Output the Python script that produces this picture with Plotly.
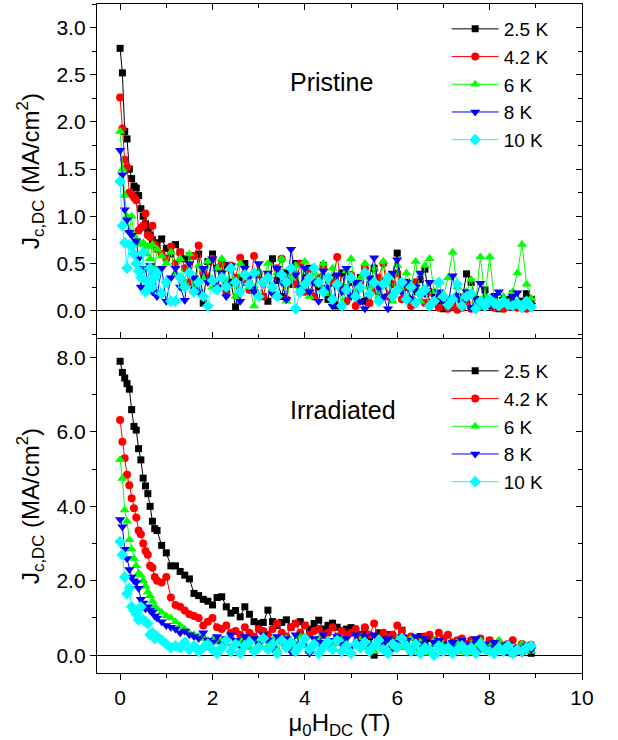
import plotly.graph_objects as go

# Magnetic field (T), shared sampling grid
FIELD_T = [
    0.00, 0.05, 0.10, 0.15, 0.20, 0.25, 0.30, 0.35, 0.40, 0.45,
    0.50, 0.55, 0.60, 0.65, 0.70, 0.75, 0.80, 0.90, 1.00, 1.10,
    1.20, 1.30, 1.40, 1.50, 1.60, 1.70, 1.80, 1.90, 2.00, 2.10,
    2.20, 2.30, 2.40, 2.50, 2.60, 2.70, 2.80, 2.90, 3.00, 3.10,
    3.20, 3.30, 3.40, 3.50, 3.60, 3.70, 3.80, 3.90, 4.00, 4.10,
    4.20, 4.30, 4.40, 4.50, 4.60, 4.70, 4.80, 4.90, 5.00, 5.10,
    5.20, 5.30, 5.40, 5.50, 5.60, 5.70, 5.80, 5.90, 6.00, 6.10,
    6.20, 6.30, 6.40, 6.50, 6.60, 6.70, 6.80, 6.90, 7.00, 7.10,
    7.20, 7.30, 7.40, 7.50, 7.60, 7.70, 7.80, 7.90, 8.00, 8.10,
    8.20, 8.30, 8.40, 8.50, 8.60, 8.70, 8.80, 8.90,
]

# ---------------- Pristine (MA/cm^2) ----------------
PRISTINE_2_5K = [
    2.78, 2.52, 1.90, 1.82, 1.50, 1.40, 1.32, 1.30, 1.22, 1.08,
    1.00, 0.92, 0.85, 0.80, 0.75, 0.72, 0.70, 0.76, 0.66, 0.60,
    0.70, 0.62, 0.55, 0.58, 0.22, 0.60, 0.08, 0.52, 0.60, 0.45,
    0.40, 0.48, 0.30, 0.04, 0.35, 0.50, 0.28, 0.22, 0.38, 0.15,
    0.10, 0.55, 0.32, 0.15, 0.40, 0.28, 0.50, 0.20, 0.35, 0.45,
    0.30, 0.25, 0.48, 0.12, 0.35, 0.05, 0.40, 0.22, 0.30, 0.18,
    0.35, 0.10, 0.28, 0.45, 0.20, 0.32, 0.15, 0.38, 0.61, 0.25,
    0.30, 0.12, 0.20, 0.33, 0.44, 0.08, 0.18, 0.10, 0.02, 0.12,
    0.08, 0.15, 0.10, 0.39, 0.30, 0.12, 0.05, 0.22, 0.10, 0.15,
    0.02, 0.08, 0.12, 0.18, 0.05, 0.10, 0.18, 0.12,
]
PRISTINE_4_2K = [
    2.26, 1.93, 1.60, 1.52, 1.25, 1.23, 1.20, 1.17, 0.85, 0.88,
    0.90, 1.03, 0.80, 0.78, 0.90, 0.70, 0.65, 0.60, 0.55, 0.68,
    0.50, 0.62, 0.45, 0.30, 0.58, 0.69, 0.40, 0.35, 0.55, 0.25,
    0.50, 0.20, 0.48, 0.35, 0.56, 0.30, 0.22, 0.58, 0.40, 0.15,
    0.38, 0.25, 0.45, 0.55, 0.12, 0.35, 0.28, 0.50, 0.20, 0.40,
    0.15, 0.35, 0.45, 0.20, 0.30, 0.57, 0.25, 0.10, 0.38, 0.05,
    0.30, 0.45, 0.08, 0.22, 0.35, 0.50, 0.15, 0.28, 0.40, 0.12,
    0.25, 0.05, 0.30, 0.18, 0.08, 0.20, 0.10, 0.03, 0.15, 0.02,
    0.05, 0.01, 0.03, 0.08, 0.02, 0.10, 0.05, 0.12, 0.06, 0.03,
    0.05, 0.02, 0.04, 0.08, 0.03, 0.06, 0.02, 0.05,
]
PRISTINE_6K = [
    1.90, 1.50, 1.22, 1.00, 0.85, 1.00, 0.80, 0.75, 0.72, 0.70,
    0.72, 0.60, 0.68, 0.55, 0.70, 0.45, 0.65, 0.58, 0.50, 0.62,
    0.40, 0.55, 0.30, 0.60, 0.20, 0.48, 0.35, 0.52, 0.25, 0.45,
    0.55, 0.30, 0.45, 0.15, 0.50, 0.38, 0.25, 0.05, 0.42, 0.30,
    0.50, 0.20, 0.40, 0.55, 0.10, 0.35, 0.48, 0.25, 0.52, 0.15,
    0.40, 0.28, 0.50, 0.18, 0.45, 0.30, 0.08, 0.42, 0.55, 0.20,
    0.35, 0.50, 0.25, 0.45, 0.15, 0.52, 0.30, 0.10, 0.48, 0.20,
    0.40, 0.25, 0.52, 0.10, 0.48, 0.55, 0.20, 0.30, 0.15, 0.35,
    0.62, 0.25, 0.10, 0.20, 0.33, 0.10, 0.57, 0.15, 0.57, 0.12,
    0.05, 0.15, 0.08, 0.20, 0.40, 0.70, 0.28, 0.13,
]
PRISTINE_8K = [
    1.70, 1.44, 1.07, 0.96, 0.83, 0.80, 0.70, 0.74, 0.55, 0.25,
    0.45, 0.45, 0.30, 0.48, 0.20, 0.40, 0.15, 0.45, 0.10, 0.35,
    0.45, 0.25, 0.11, 0.50, 0.35, 0.20, 0.45, 0.30, 0.55, 0.25,
    0.40, 0.15, 0.48, 0.30, 0.10, 0.45, 0.35, 0.20, 0.50, 0.28,
    0.40, 0.18, 0.45, 0.30, 0.12, 0.65, 0.38, 0.25, 0.45, 0.20,
    0.30, 0.10, 0.42, 0.25, 0.05, 0.38, 0.20, 0.45, 0.15, 0.30,
    0.10, 0.02, 0.35, 0.56, 0.25, 0.15, 0.02, 0.40, 0.54, 0.20,
    0.30, 0.12, 0.25, 0.40, 0.18, 0.30, 0.08, 0.20, 0.10, 0.05,
    0.37, 0.15, 0.08, 0.20, 0.03, 0.12, 0.29, 0.10, 0.05, 0.15,
    0.20, 0.12, 0.08, 0.15, 0.19, 0.05, 0.10, 0.06,
]
PRISTINE_10K = [
    1.37, 0.90, 0.72, 0.45, 0.70, 0.68, 0.60, 0.50, 0.42, 0.35,
    0.62, 0.20, 0.30, 0.45, 0.25, 0.35, 0.40, 0.18, 0.30, 0.10,
    0.10, 0.35, 0.25, 0.40, 0.20, 0.30, 0.15, 0.05, 0.32, 0.22,
    0.35, 0.25, 0.45, 0.30, 0.20, 0.38, 0.28, 0.40, 0.15, 0.30,
    0.35, 0.25, 0.15, 0.38, 0.30, 0.45, 0.02, 0.20, 0.28, 0.35,
    0.45, 0.30, 0.20, 0.35, 0.12, 0.28, 0.05, 0.22, 0.35, 0.15,
    0.25, 0.40, 0.18, 0.30, 0.10, 0.28, 0.35, 0.15, 0.22, 0.30,
    0.12, 0.25, 0.08, 0.18, 0.22, 0.05, 0.10, 0.30, 0.15, 0.06,
    0.12, 0.28, 0.05, 0.15, 0.18, 0.02, 0.10, 0.05, 0.12, 0.08,
    0.05, 0.10, 0.06, 0.05, 0.08, 0.03, 0.10, 0.04,
]

# ---------------- Irradiated (MA/cm^2) ----------------
IRRADIATED_2_5K = [
    7.90, 7.60, 7.45, 7.30, 7.15, 6.60, 6.15, 6.05, 5.55, 5.25,
    4.76, 4.55, 4.34, 4.00, 3.60, 3.40, 3.35, 2.95, 2.75, 2.40,
    2.40, 2.25, 2.15, 2.05, 1.66, 1.60, 1.50, 1.45, 1.35, 1.55,
    1.57, 1.30, 1.13, 1.20, 1.03, 1.30, 1.10, 0.90, 0.85, 0.88,
    1.21, 0.90, 0.80, 0.88, 0.95, 0.75, 0.85, 0.90, 0.80, 0.70,
    0.85, 0.94, 0.70, 0.80, 0.86, 0.75, 0.65, 0.70, 0.74, 0.60,
    0.55, 0.65, 0.50, 0.00, 0.60, 0.45, 0.55, 0.50, 0.40, 0.67,
    0.45, 0.10, 0.40, 0.50, 0.35, 0.45, 0.40, 0.30, 0.35, 0.25,
    0.30, 0.20, 0.35, 0.25, 0.30, 0.15, 0.28, 0.20, 0.38, 0.30,
    0.15, 0.25, 0.10, 0.05, 0.18, 0.08, 0.15, 0.05,
]
IRRADIATED_4_2K = [
    6.32, 5.74, 5.29, 4.85, 4.57, 4.22, 3.95, 3.70, 3.35, 3.25,
    3.00, 2.80, 2.70, 2.40, 2.35, 2.10, 2.00, 1.95, 2.10, 1.55,
    1.35, 1.30, 1.20, 1.10, 1.05, 1.00, 0.80, 0.90, 1.00, 0.75,
    0.70, 0.80, 0.60, 0.65, 0.55, 0.75, 0.60, 0.50, 0.70, 0.65,
    0.55, 0.70, 0.85, 0.60, 0.50, 0.75, 0.85, 0.60, 0.80, 0.55,
    0.65, 0.70, 0.55, 0.60, 0.75, 0.50, 0.65, 0.55, 0.60, 0.70,
    0.50, 0.75, 0.55, 0.85, 0.45, 0.60, 0.50, 0.55, 0.80, 0.65,
    0.40, 0.50, 0.45, 0.35, 0.50, 0.55, 0.40, 0.60, 0.45, 0.55,
    0.35, 0.40, 0.45, 0.30, 0.40, 0.35, 0.45, 0.25, 0.40, 0.30,
    0.35, 0.25, 0.30, 0.40, 0.20, 0.30, 0.25, 0.28,
]
IRRADIATED_6K = [
    5.25, 4.75, 3.90, 3.60, 3.10, 2.85, 2.60, 2.40, 2.20, 2.15,
    2.00, 1.85, 1.70, 1.60, 1.45, 1.30, 1.25, 1.15, 1.05, 1.00,
    0.90, 0.80, 0.70, 0.60, 0.55, 0.50, 0.45, 0.40, 0.42, 0.35,
    0.40, 0.30, 0.50, 0.25, 0.35, 0.45, 0.20, 0.40, 0.30, 0.50,
    0.25, 0.40, 0.15, 0.35, 0.45, 0.20, 0.30, 0.50, 0.25, 0.10,
    0.35, 0.45, 0.20, 0.40, 0.15, 0.30, 0.45, 0.25, 0.05, 0.35,
    0.40, 0.20, 0.30, 0.10, 0.45, 0.25, 0.35, 0.15, 0.40, 0.20,
    0.30, 0.45, 0.10, 0.35, 0.25, 0.05, 0.40, 0.20, 0.30, 0.15,
    0.25, 0.35, 0.10, 0.05, 0.30, 0.20, 0.40, 0.15, 0.25, 0.30,
    0.40, 0.10, 0.20, 0.05, 0.15, 0.30, 0.20, 0.10,
]
IRRADIATED_8K = [
    3.65, 3.45, 2.85, 2.60, 2.30, 2.10, 2.00, 1.95, 1.80, 1.50,
    1.40, 1.25, 1.30, 1.20, 1.15, 1.05, 1.00, 0.90, 0.80, 0.75,
    0.70, 0.60, 0.65, 0.55, 0.50, 0.45, 0.60, 0.40, 0.35, 0.50,
    0.30, 0.45, 0.55, 0.40, 0.25, 0.50, 0.35, 0.45, 0.30, 0.55,
    0.40, 0.20, 0.50, 0.35, 0.45, 0.10, 0.55, 0.30, 0.40, 0.05,
    0.45, 0.35, 0.55, 0.25, 0.40, 0.50, 0.30, 0.45, 0.20, 0.55,
    0.35, 0.50, 0.25, 0.55, 0.40, 0.30, 0.45, 0.20, 0.35, 0.50,
    0.40, 0.25, 0.50, 0.30, 0.45, 0.20, 0.35, 0.40, 0.15, 0.30,
    0.35, 0.20, 0.40, 0.25, 0.30, 0.45, 0.15, 0.30, 0.20, 0.35,
    0.25, 0.15, 0.30, 0.10, 0.20, 0.05, 0.25, 0.15,
]
IRRADIATED_10K = [
    3.05, 2.70, 2.10, 1.65, 1.80, 1.30, 1.20, 1.10, 0.95, 1.30,
    0.95, 0.90, 0.85, 0.55, 0.60, 0.45, 0.50, 0.40, 0.30, 0.20,
    0.25, 0.20, 0.35, 0.15, 0.25, 0.10, 0.20, 0.30, 0.15, 0.05,
    0.20, 0.40, 0.10, 0.30, 0.05, 0.25, 0.35, 0.10, 0.20, 0.45,
    0.15, 0.30, 0.05, 0.40, 0.20, 0.35, 0.10, 0.25, 0.45, 0.15,
    0.30, 0.05, 0.20, 0.35, 0.15, 0.40, 0.10, 0.25, 0.05, 0.30,
    0.20, 0.35, 0.10, 0.25, 0.40, 0.15, 0.05, 0.30, 0.20, 0.45,
    0.25, 0.10, 0.30, 0.05, 0.20, 0.15, 0.00, 0.25, 0.10, 0.20,
    0.05, 0.15, 0.25, 0.10, 0.20, 0.05, 0.30, 0.15, 0.10, 0.05,
    0.20, 0.10, 0.25, 0.05, 0.15, 0.10, 0.20, 0.25,
]

SERIES_NAMES = ["2.5 K", "4.2 K", "6 K", "8 K", "10 K"]
PRISTINE = [PRISTINE_2_5K, PRISTINE_4_2K, PRISTINE_6K, PRISTINE_8K, PRISTINE_10K]
IRRADIATED = [IRRADIATED_2_5K, IRRADIATED_4_2K, IRRADIATED_6K, IRRADIATED_8K, IRRADIATED_10K]
COLORS = ["#000000", "#FF0000", "#00FF00", "#0000FF", "#00FFFF"]
SYMBOLS = ["square", "circle", "triangle-up", "triangle-down", "diamond"]
SIZES = [7, 8, 9, 9, 9]

X_TICKS = [0, 2, 4, 6, 8, 10]
X_RANGE = [-0.5, 10]
TOP_RANGE = [-0.29, 3.25]
BOT_RANGE = [-0.48, 8.5]

FONT = "Arial, 'Liberation Sans', sans-serif"

fig = go.Figure()

for name, ys, c, sym, sz in zip(SERIES_NAMES, PRISTINE, COLORS, SYMBOLS, SIZES):
    fig.add_trace(go.Scatter(
        x=FIELD_T, y=ys, name=name, mode="lines+markers",
        line=dict(color=c, width=1), marker=dict(symbol=sym, size=sz, color=c),
        xaxis="x2", yaxis="y2", legend="legend"))

for name, ys, c, sym, sz in zip(SERIES_NAMES, IRRADIATED, COLORS, SYMBOLS, SIZES):
    fig.add_trace(go.Scatter(
        x=FIELD_T, y=ys, name=name, mode="lines+markers",
        line=dict(color=c, width=1), marker=dict(symbol=sym, size=sz, color=c),
        xaxis="x", yaxis="y", legend="legend2"))

# empty helper traces so the mirror (frame) axes are drawn
for xa, ya in [("x3", "y2"), ("x2", "y3"), ("x4", "y"), ("x", "y4")]:
    fig.add_trace(go.Scatter(x=[], y=[], xaxis=xa, yaxis=ya, showlegend=False,
                             hoverinfo="skip"))

LW = 1.3
common = dict(showline=True, linecolor="black", linewidth=LW, showgrid=False,
              tickcolor="black", tickwidth=LW, ticklen=6,
              tickfont=dict(family=FONT, size=21, color="black"))


def minor(direction, dt):
    return dict(ticks=direction, dtick=dt, ticklen=3.5, tickwidth=LW,
                tickcolor="black", showgrid=False)


ytitle = dict(text="J<sub>c,DC</sub> (MA/cm<sup>2</sup>)",
              font=dict(family=FONT, size=24, color="black"), standoff=10)

legend_common = dict(xanchor="left", yanchor="top", bgcolor="rgba(0,0,0,0)",
                     itemwidth=47, tracegroupgap=0,
                     font=dict(family=FONT, size=19, color="black"))

fig.update_layout(
    width=618, height=740,
    margin=dict(l=97, r=36, t=4, b=67),
    paper_bgcolor="white", plot_bgcolor="white",
    font=dict(family=FONT, color="black"),
    xaxis=dict(**common, domain=[0, 1], anchor="y", range=X_RANGE,
               tickvals=X_TICKS, ticks="outside", minor=minor("outside", 1),
               zeroline=False,
               title=dict(text="μ<sub>0</sub>H<sub>DC</sub> (T)",
                          font=dict(family=FONT, size=24, color="black"),
                          standoff=6)),
    yaxis=dict(**common, domain=[0, 0.4993], anchor="x", range=BOT_RANGE,
               dtick=2, tick0=0, tickformat=".1f", ticks="outside",
               minor=minor("outside", 1), zeroline=True,
               zerolinecolor="black", zerolinewidth=1.2, title=ytitle),
    xaxis2=dict(**common, domain=[0, 1], anchor="y2", range=X_RANGE,
                tickvals=X_TICKS, ticks="inside", showticklabels=False,
                minor=minor("inside", 1), zeroline=False),
    yaxis2=dict(**common, domain=[0.5007, 1], anchor="x2", range=TOP_RANGE,
                dtick=0.5, tick0=0, tickformat=".1f", ticks="outside",
                minor=minor("outside", 0.25), zeroline=True,
                zerolinecolor="black", zerolinewidth=1.2, title=ytitle),
    xaxis3=dict(**common, overlaying="x2", side="top", anchor="y2",
                range=X_RANGE, tickvals=X_TICKS, ticks="inside",
                showticklabels=False, minor=minor("inside", 1), zeroline=False),
    yaxis3=dict(**common, overlaying="y2", side="right", anchor="x2",
                range=TOP_RANGE, dtick=0.5, tick0=0, ticks="inside",
                showticklabels=False, minor=minor("inside", 0.25),
                zeroline=False),
    xaxis4=dict(**common, overlaying="x", side="top", anchor="y",
                range=X_RANGE, ticks="", showticklabels=False,
                zeroline=False),
    yaxis4=dict(**common, overlaying="y", side="right", anchor="x",
                range=BOT_RANGE, dtick=2, tick0=0, ticks="inside",
                showticklabels=False, minor=minor("inside", 1),
                zeroline=False),
    legend=dict(x=0.721, y=0.991, **legend_common),
    legend2=dict(x=0.721, y=0.4798, **legend_common),
    annotations=[
        dict(text="Pristine", x=4.57, y=2.42, xref="x2", yref="y2",
             showarrow=False, font=dict(family=FONT, size=25, color="black")),
        dict(text="Irradiated", x=4.83, y=6.6, xref="x", yref="y",
             showarrow=False, font=dict(family=FONT, size=25, color="black")),
    ],
)

fig.write_html(
    "out.html",
    config={"displayModeBar": False},
    post_script="document.body.style.margin='0';document.body.style.padding='0';",
)
